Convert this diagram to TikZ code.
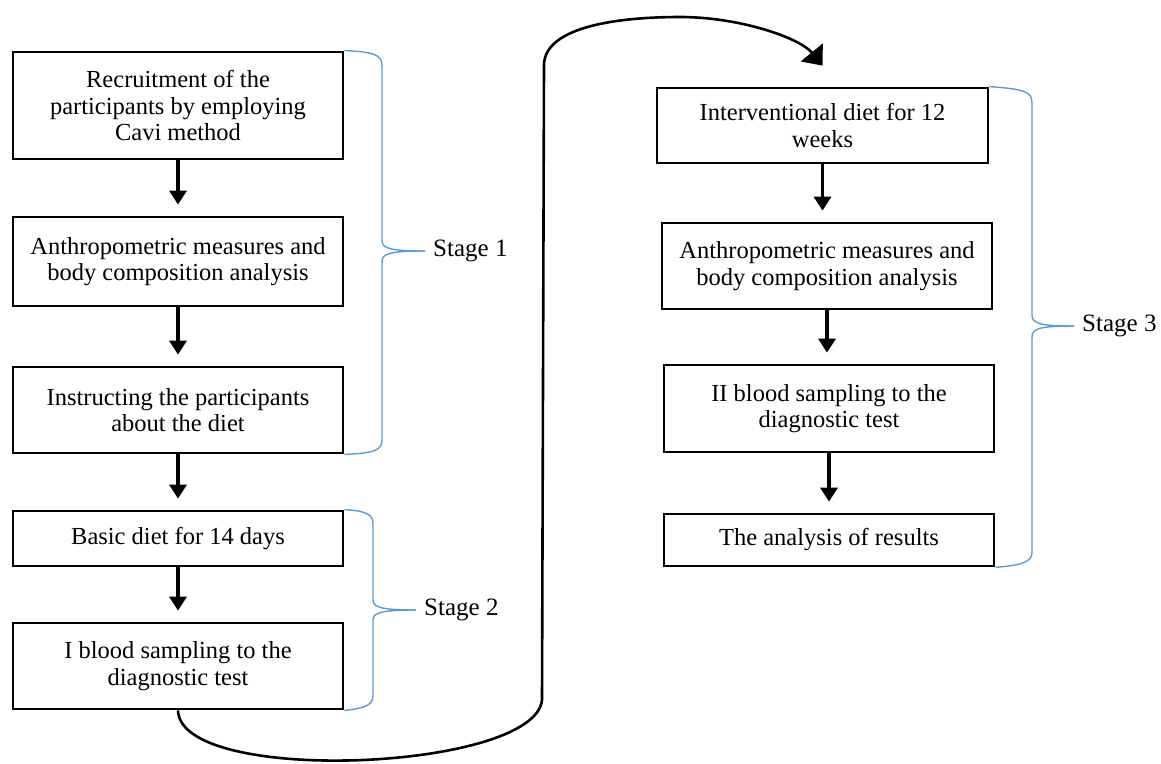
\documentclass[tikz,border=0pt]{standalone}
\usepackage{fontspec}
\setmainfont{Liberation Serif}
\usetikzlibrary{arrows.meta}
\definecolor{braceblue}{HTML}{5B9BD5}
\begin{document}
\begin{tikzpicture}[x=1pt,y=-1pt,
  stepbox/.style={draw=black, line width=2.8pt, align=center, inner sep=0pt,
    minimum width=330pt, font=\fontsize{24.5}{26.5}\selectfont},
  flow/.style={line width=3.4pt, -{Triangle[length=14pt,width=17pt]}, shorten >=11pt},
  bracepath/.style={draw=braceblue, line width=1.4pt},
  stagelbl/.style={anchor=west, inner ysep=0pt, inner xsep=8pt, font=\fontsize{25}{27}\selectfont},
  loop/.style={line width=2.6pt, -{Triangle[length=17pt,width=28pt]}}
]
\useasboundingbox (0,0) rectangle (1161,763);

% left column
\node[stepbox, minimum height=107pt] (l1) at (178,105.5) {Recruitment of the\\participants by employing\\Cavi method};
\node[stepbox, minimum height=89pt] (l2) at (178,261.5) {Anthropometric measures and\\body composition analysis};
\node[stepbox, minimum height=86pt] (l3) at (178,410) {Instructing the participants\\about the diet};
\node[stepbox, minimum height=55pt] (l4) at (178,538.5) {Basic diet for 14 days};
\node[stepbox, minimum height=86pt] (l5) at (178,666) {I blood sampling to the\\diagnostic test};

% right column
\node[stepbox, minimum height=75pt, minimum width=331pt] (r1) at (822.5,125.5) {Interventional diet for 12\\weeks};
\node[stepbox, minimum height=86pt] (r2) at (827,266) {Anthropometric measures and\\body composition analysis};
\node[stepbox, minimum height=87pt] (r3) at (829,408.5) {II blood sampling to the\\diagnostic test};
\node[stepbox, minimum height=52pt] (r4) at (829,540) {The analysis of results};

% arrows
\draw[flow] (l1.south) -- (l2.north);
\draw[flow] (l2.south) -- (l3.north);
\draw[flow] (l3.south) -- (l4.north);
\draw[flow] (l4.south) -- (l5.north);
\draw[flow] (r1.south) -- (r1.south |- r2.north);
\draw[flow] (r2.south) -- (r2.south |- r3.north);
\draw[flow] (r3.south) -- (r4.north);

% stage labels
\node[stagelbl] (s1) at (425,251) {Stage 1};
\node[stagelbl] (s2) at (416,610) {Stage 2};
\node[stagelbl] (s3) at (1074,326) {Stage 3};

% braces
\draw[bracepath] (l1.north east) .. controls (375,52) and (382,55) .. (382,66)
  -- (382,240) .. controls (382,248) and (388,251) .. (s1.west);
\draw[bracepath] (s1.west) .. controls (388,251) and (382,254) .. (382,262)
  -- (382,440) .. controls (382,450) and (375,453) .. (l3.south east);

\draw[bracepath] (l4.north east) .. controls (366,511) and (373,514) .. (373,524)
  -- (373,600) .. controls (373,607) and (380,610) .. (s2.west);
\draw[bracepath] (s2.west) .. controls (380,610) and (373,613) .. (373,620)
  -- (373,695) .. controls (373,705) and (366,708) .. (l5.south east);

\draw[bracepath] (r1.north east) .. controls (1025,89) and (1032,92) .. (1032,103)
  -- (1032,315) .. controls (1032,323) and (1038,326) .. (s3.west);
\draw[bracepath] (s3.west) .. controls (1038,326) and (1032,329) .. (1032,337)
  -- (1032,552) .. controls (1032,561) and (1025,565) .. (r4.south east);

% loop connector
\coordinate (lb) at (542,700);
\coordinate (lt) at (544,64);
\coordinate (peak) at (680,17);
\draw[loop] (l5.south) .. controls (180,786) and (535,771) .. (lb)
  -- (lt) .. controls (546,26) and (620,17) .. (peak)
  .. controls (740,17) and (800,38) .. ([yshift=21pt]r1.north);
\end{tikzpicture}
\end{document}
